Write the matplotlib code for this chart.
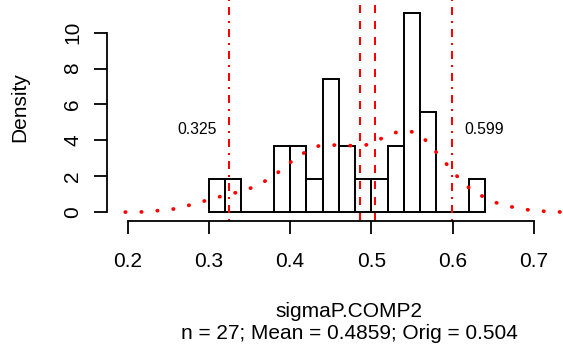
import numpy as np
import matplotlib
matplotlib.use("Agg")
import matplotlib.pyplot as plt

plt.rcParams['font.family'] = ['Liberation Sans', 'DejaVu Sans']

# Histogram of bootstrap estimates (bin width 0.02)
bin_edges = [0.30, 0.32, 0.34, 0.36, 0.38, 0.40, 0.42, 0.44, 0.46,
             0.48, 0.50, 0.52, 0.54, 0.56, 0.58, 0.60, 0.62, 0.64]
counts = [1, 1, 0, 0, 2, 2, 1, 4, 2, 1, 1, 2, 6, 3, 0, 0, 1]

# Kernel density curve
dens_x = [0.1972, 0.2169, 0.2369, 0.2562, 0.2755, 0.2947, 0.3137, 0.3329,
          0.3518, 0.3694, 0.3858, 0.4010, 0.4170, 0.4350, 0.4547, 0.4749,
          0.4937, 0.5121, 0.5306, 0.5494, 0.5663, 0.5794, 0.5925, 0.6053,
          0.6195, 0.6360, 0.6540, 0.6729, 0.6926, 0.7118, 0.7315, 0.7450]
dens_y = [0.01, 0.02, 0.09, 0.18, 0.39, 0.63, 0.87, 1.09,
          1.35, 1.74, 2.24, 2.80, 3.30, 3.69, 3.74, 3.71,
          3.75, 4.10, 4.45, 4.49, 4.03, 3.37, 2.69, 2.02,
          1.39, 0.91, 0.53, 0.30, 0.14, 0.06, 0.02, 0.01]

mean_val = 0.4859
orig_val = 0.504
ci_low, ci_high = 0.325, 0.599
xticks = [0.2, 0.3, 0.4, 0.5, 0.6, 0.7]
yticks = [0, 2, 4, 6, 8, 10]

n = sum(counts)
edges = np.array(bin_edges)
widths = np.diff(edges)
density = np.array(counts) / (n * widths)

fig = plt.figure(figsize=(5.63, 3.5), dpi=100)
W, H = 563.0, 350.0
left, right, bottom, top = 107.3, 590.7, 220.7, -6.0
ax = fig.add_axes([left / W, (H - bottom) / H, (right - left) / W, (bottom - top) / H])
ax.set_xlim(0.1751, 0.7700)
ax.set_ylim(-0.468, 12.15)

ax.bar(edges[:-1], density, width=widths, align='edge', fill=False,
       edgecolor='black', linewidth=1.4)

red = '#FF0000'
for v in (mean_val, orig_val):
    ax.axvline(v, color=red, linewidth=1.44, linestyle=(0, (4, 4)))
for v in (ci_low, ci_high):
    ax.axvline(v, color=red, linewidth=1.44, linestyle=(0, (1, 3, 4, 3)))

ax.plot(dens_x, dens_y, color=red, linewidth=2.7,
        linestyle=(0, (0.1, 4.17)), dash_capstyle='round')

ax.annotate(f"{ci_low:.3f}", xy=(ci_low, 4.62), xytext=(-9, 0),
            textcoords='offset points', ha='right', va='center', fontsize=11.3)
ax.annotate(f"{ci_high:.3f}", xy=(ci_high, 4.62), xytext=(9, 0),
            textcoords='offset points', ha='left', va='center', fontsize=11.3)

for s in ('top', 'right'):
    ax.spines[s].set_visible(False)
ax.spines['left'].set_bounds(0, 10)
ax.spines['bottom'].set_bounds(0.2, 0.7)
for s in ('left', 'bottom'):
    ax.spines[s].set_linewidth(1.3)

ax.set_xticks(xticks)
ax.set_xticklabels([f"{t:.1f}" for t in xticks])
ax.set_yticks(yticks)
ax.set_yticklabels([str(t) for t in yticks])
ax.tick_params(axis='both', direction='out', length=9.2, width=1.3,
               labelsize=15)
ax.tick_params(axis='x', pad=13)
ax.tick_params(axis='y', pad=8.8, labelrotation=90)
for lab in ax.get_yticklabels():
    lab.set_verticalalignment('center')

fig.text(349 / W, (H - 316.7) / H, "sigmaP.COMP2", ha='center',
         va='baseline', fontsize=15)
fig.text(349 / W, (H - 339.3) / H,
         f"n = {n}; Mean = {mean_val:.4f}; Orig = {orig_val}",
         ha='center', va='baseline', fontsize=15)
fig.text(20 / W, (H - 107.5) / H, "Density", rotation=90, ha='center',
         va='center', fontsize=15)

fig.savefig("out.png", dpi=100)
